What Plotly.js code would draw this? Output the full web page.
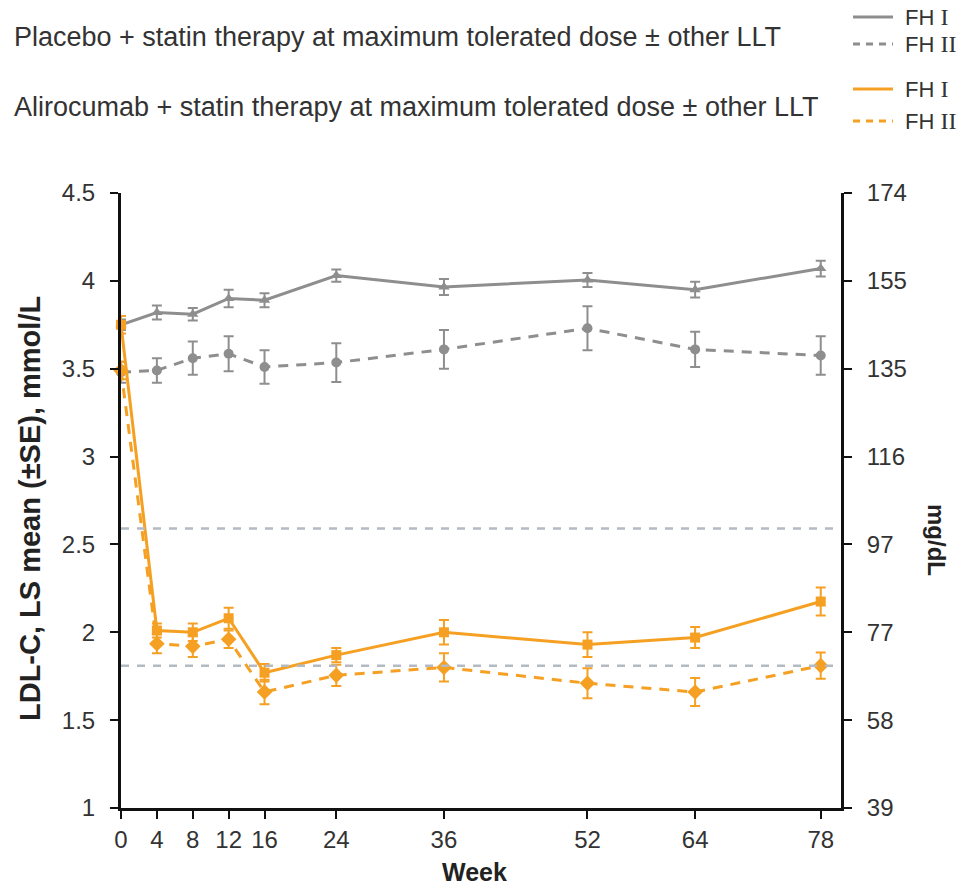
<!DOCTYPE html>
<html>
<head>
<meta charset="utf-8">
<script src="https://cdn.plot.ly/plotly-3.0.1.min.js"></script>
<style>html,body{margin:0;padding:0;background:#fff;}#chart{width:958px;height:889px;}</style>
</head>
<body>
<div id="chart"></div>
<script>
// ---- data ----
const weeks = [0, 4, 8, 12, 16, 24, 36, 52, 64, 78];
const weekTicks = [0, 4, 8, 12, 16, 24, 36, 52, 64, 78];

const placeboFH1 = [3.75, 3.82, 3.81, 3.90, 3.89, 4.03, 3.965, 4.005, 3.95, 4.07];
const placeboFH1Err = [0.03, 0.04, 0.035, 0.05, 0.04, 0.035, 0.045, 0.04, 0.045, 0.045];

const placeboFH2 = [3.48, 3.49, 3.56, 3.585, 3.51, 3.535, 3.61, 3.73, 3.61, 3.575];
const placeboFH2Err = [0.06, 0.07, 0.095, 0.10, 0.095, 0.11, 0.11, 0.125, 0.10, 0.11];

const aliroFH1 = [3.75, 2.01, 2.00, 2.08, 1.77, 1.87, 2.00, 1.93, 1.97, 2.175];
const aliroFH1Err = [0.05, 0.04, 0.05, 0.06, 0.05, 0.04, 0.07, 0.07, 0.06, 0.08];

const aliroFH2 = [3.49, 1.935, 1.92, 1.96, 1.66, 1.755, 1.80, 1.71, 1.66, 1.81];
const aliroFH2Err = [0.05, 0.055, 0.06, 0.05, 0.07, 0.06, 0.08, 0.085, 0.08, 0.075];

// target reference lines (mmol/L): 100 mg/dL and 70 mg/dL
const targetLines = [2.59, 1.81];

const mmolTicks = [1, 1.5, 2, 2.5, 3, 3.5, 4, 4.5];
const mmolTickText = ['1', '1.5', '2', '2.5', '3', '3.5', '4', '4.5'];
const mgdlTickText = ['39', '58', '77', '97', '116', '135', '155', '174'];

const xRange = [0, 80.26];
const yRange = [1, 4.5];

// ---- styles ----
const GREY = '#8e8e8e';
const ORANGE = '#f5a022';
const REF = '#b3bac2';
const FONT = 'Liberation Sans, Arial, sans-serif';
const TXT = '#333333';

function series(y, err, color, dash, symbol, size) {
  return {
    x: weeks, y: y, type: 'scatter', mode: 'lines+markers',
    line: {color: color, width: 3, dash: dash},
    marker: {color: color, symbol: symbol, size: size},
    error_y: {type: 'data', array: err, visible: true, color: color, thickness: 2, width: 5},
    cliponaxis: false, showlegend: false, hoverinfo: 'x+y'
  };
}

const traces = [];
targetLines.forEach(v => {
  traces.push({
    x: xRange, y: [v, v], type: 'scatter', mode: 'lines', yaxis: 'y2',
    line: {color: REF, width: 2.5, dash: '8px,8px'}, showlegend: false, hoverinfo: 'skip'
  });
});
traces.push(series(placeboFH2, placeboFH2Err, GREY, '10px,8px', 'circle', 10));
traces.push(series(placeboFH1, placeboFH1Err, GREY, 'solid', 'triangle-up', 10));
traces.push(series(aliroFH2, aliroFH2Err, ORANGE, '10px,8px', 'diamond', 12));
traces.push(series(aliroFH1, aliroFH1Err, ORANGE, 'solid', 'square', 10));

// plot area in px: left 121, right 841, top 193, bottom 808
const L = 121, R = 841, T = 193, B = 808;
const px = v => (v - L) / (R - L);
const py = v => (B - v) / (B - T);

const fhLabel = n => 'FH <span style="font-family:Liberation Serif, serif;font-size:24px">' + n + '</span>';

const legendRows = [
  {y: 17, color: GREY, dash: 'solid', label: fhLabel('I')},
  {y: 44, color: GREY, dash: 'dot', label: fhLabel('II')},
  {y: 89, color: ORANGE, dash: 'solid', label: fhLabel('I')},
  {y: 121, color: ORANGE, dash: 'dot', label: fhLabel('II')}
];

const shapes = legendRows.map(r => ({
  type: 'line', xref: 'paper', yref: 'paper',
  x0: px(853), x1: px(893), y0: py(r.y), y1: py(r.y),
  line: {color: r.color, width: 3, dash: r.dash === 'dot' ? '7px,6px' : 'solid'}
}));

const annotations = legendRows.map(r => ({
  xref: 'paper', yref: 'paper', x: px(903), y: py(r.y), xanchor: 'left', yanchor: 'middle',
  text: r.label, showarrow: false, font: {family: FONT, size: 22, color: TXT}
}));
annotations.push(
  {xref: 'paper', yref: 'paper', x: px(12), y: py(37), xanchor: 'left', yanchor: 'middle',
   text: 'Placebo + statin therapy at maximum tolerated dose ± other LLT', showarrow: false,
   font: {family: FONT, size: 27, color: TXT}},
  {xref: 'paper', yref: 'paper', x: px(12), y: py(107), xanchor: 'left', yanchor: 'middle',
   text: 'Alirocumab + statin therapy at maximum tolerated dose ± other LLT', showarrow: false,
   font: {family: FONT, size: 27, color: TXT}},
  {xref: 'paper', yref: 'paper', x: px(30), y: py(509), xanchor: 'center', yanchor: 'middle',
   textangle: -90, text: '<b>LDL-C, LS mean (±SE), mmol/L</b>', showarrow: false,
   font: {family: FONT, size: 29, color: '#222'}},
  {xref: 'paper', yref: 'paper', x: px(937), y: py(540), xanchor: 'center', yanchor: 'middle',
   textangle: 90, text: '<b>mg/dL</b>', showarrow: false,
   font: {family: FONT, size: 24, color: '#222'}},
  {xref: 'paper', yref: 'paper', x: px(474), y: py(872), xanchor: 'center', yanchor: 'middle',
   text: '<b>Week</b>', showarrow: false,
   font: {family: FONT, size: 25, color: '#222'}}
);

const axisCommon = {
  showline: true, linecolor: '#111', linewidth: 3,
  ticks: 'outside', ticklen: 8, tickwidth: 2, tickcolor: '#111',
  showgrid: false, zeroline: false,
  tickfont: {family: FONT, size: 24, color: TXT}, fixedrange: true
};

const layout = {
  width: 958, height: 889,
  margin: {l: L, r: 958 - R, t: T, b: 889 - B, pad: 0},
  paper_bgcolor: '#ffffff', plot_bgcolor: '#ffffff',
  font: {family: FONT, size: 20, color: TXT},
  showlegend: false,
  xaxis: Object.assign({}, axisCommon, {
    range: xRange, tickmode: 'array', tickvals: weekTicks, ticktext: weekTicks.map(String),
    ticklabelstandoff: 0
  }),
  yaxis: Object.assign({}, axisCommon, {
    range: yRange, tickmode: 'array', tickvals: mmolTicks, ticktext: mmolTickText,
    ticklabelstandoff: 10
  }),
  yaxis2: Object.assign({}, axisCommon, {
    range: yRange, overlaying: 'y', side: 'right', anchor: 'x',
    tickmode: 'array', tickvals: mmolTicks, ticktext: mgdlTickText,
    ticklabelstandoff: 10
  }),
  shapes: shapes,
  annotations: annotations
};

Plotly.newPlot('chart', traces, layout, {displayModeBar: false, staticPlot: true});
</script>
</body>
</html>
